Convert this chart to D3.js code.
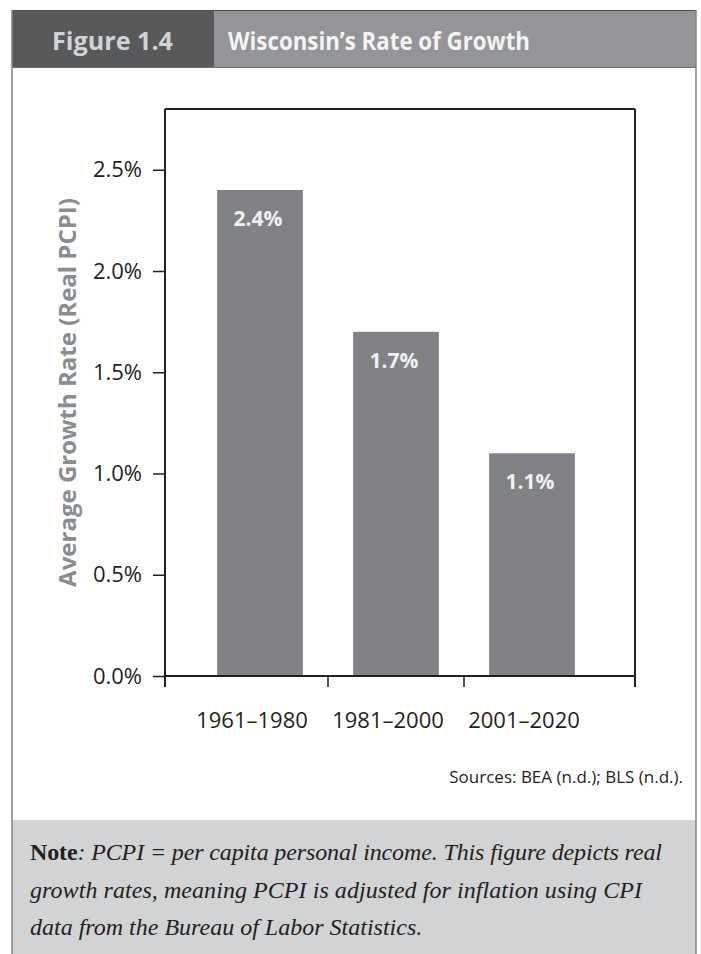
<!DOCTYPE html>
<html>
<head>
<meta charset="utf-8">
<script src="https://cdn.jsdelivr.net/npm/d3@7"></script>
<style>
  html, body { margin: 0; padding: 0; background: #ffffff; }
  svg { display: block; }
</style>
</head>
<body>
<svg id="fig" width="701" height="954"></svg>
<script>
// Average real PCPI growth by period
const categories = ["1961–1980", "1981–2000", "2001–2020"];
const growthRates = [2.4, 1.7, 1.1];
const yTickValues = [0, 0.5, 1.0, 1.5, 2.0, 2.5];

const figureNumber = "Figure 1.4";
const figureTitle = "Wisconsin’s Rate of Growth";
const yAxisTitle = "Average Growth Rate (Real PCPI)";
const sourceText = "Sources: BEA (n.d.); BLS (n.d.).";

const W = 701, H = 954;
const svg = d3.select("#fig");
const sans = "'Open Sans', 'Noto Sans', sans-serif";
const serif = "'Liberation Serif', 'DejaVu Serif', serif";
const ink = "#231f20";

// panel layout
const panelL = 12, panelR = 696, headTop = 10, headBot = 68, splitX = 214;
const noteTop = 820;

// white panel body
svg.append("rect").attr("x", panelL).attr("y", headBot).attr("width", panelR - panelL)
  .attr("height", H - headBot).attr("fill", "#ffffff");

// note band
svg.append("rect").attr("x", panelL).attr("y", noteTop).attr("width", panelR - panelL)
  .attr("height", H - noteTop).attr("fill", "#d1d3d4");

// header bands
svg.append("rect").attr("x", panelL).attr("y", headTop).attr("width", splitX - panelL)
  .attr("height", headBot - headTop).attr("fill", "#58595b");
svg.append("rect").attr("x", splitX).attr("y", headTop).attr("width", panelR - splitX)
  .attr("height", headBot - headTop).attr("fill", "#939598");
svg.append("line").attr("x1", panelL).attr("x2", panelR).attr("y1", headTop + 0.5).attr("y2", headTop + 0.5)
  .attr("stroke", "#4d4d4f").attr("stroke-width", 1);
svg.append("line").attr("x1", panelL).attr("x2", panelR).attr("y1", headBot - 0.5).attr("y2", headBot - 0.5)
  .attr("stroke", "#6d6e71").attr("stroke-width", 1);

svg.append("text").attr("x", 52).attr("y", 50)
  .attr("font-family", sans).attr("font-weight", 700).attr("font-size", 25)
  .attr("fill", "#d1d3d4").attr("textLength", 121).attr("lengthAdjust", "spacingAndGlyphs")
  .text(figureNumber);
svg.append("text").attr("x", 228).attr("y", 50)
  .attr("font-family", sans).attr("font-weight", 700).attr("font-size", 25)
  .attr("fill", "#f4f4f4").attr("textLength", 302).attr("lengthAdjust", "spacingAndGlyphs")
  .text(figureTitle);

// panel side borders
[panelL, panelR].forEach(px => {
  svg.append("line").attr("x1", px).attr("x2", px).attr("y1", headTop).attr("y2", H)
    .attr("stroke", "#808285").attr("stroke-width", 1.5);
});

// plot frame
const frameL = 165, frameR = 635, frameT = 109, frameB = 676;

const y = d3.scaleLinear().domain([0, 2.8]).range([frameB, frameT]);
const x = d3.scaleBand().domain(categories).range([192, 600])
  .paddingInner(0.37).paddingOuter(0.185);

const g = svg.append("g");

// bars
g.selectAll("rect.bar").data(categories).join("rect")
  .attr("class", "bar")
  .attr("x", d => x(d))
  .attr("width", x.bandwidth())
  .attr("y", (d, i) => y(growthRates[i]))
  .attr("height", (d, i) => y(0) - y(growthRates[i]))
  .attr("fill", "#808285");

// value labels inside bars
const pct = v => d3.format(".1f")(v) + "%";
g.selectAll("text.val").data(categories).join("text")
  .attr("class", "val")
  .attr("x", d => x(d) + x.bandwidth() / 2 - 2)
  .attr("y", (d, i) => y(growthRates[i]) + 36)
  .attr("text-anchor", "middle")
  .attr("font-family", sans).attr("font-weight", 700).attr("font-size", 21)
  .attr("fill", "#f1f1f2")
  .text((d, i) => pct(growthRates[i]));

// y axis
const yAxis = d3.axisLeft(y).tickValues(yTickValues).tickFormat(pct)
  .tickSize(12).tickPadding(11);
const yg = g.append("g").attr("transform", `translate(${frameL},0)`).call(yAxis);
yg.select(".domain").remove();
yg.selectAll(".tick line").attr("stroke", ink).attr("stroke-width", 1.5);
yg.selectAll(".tick text").attr("font-family", sans).attr("font-size", 22)
  .attr("fill", ink);

// frame lines
function seg(x1, y1, x2, y2) {
  g.append("line").attr("x1", x1).attr("y1", y1).attr("x2", x2).attr("y2", y2)
    .attr("stroke", ink).attr("stroke-width", 2);
}
seg(frameL, frameT, frameR, frameT);
seg(frameL, frameT, frameL, frameB + 11);
seg(frameR, frameT, frameR, frameB + 11);
seg(frameL, frameB, frameR, frameB);

// category dividers on the x axis
const half = x.step() * x.paddingInner() / 2;
categories.slice(1).forEach(c => {
  g.append("line").attr("x1", x(c) - half).attr("x2", x(c) - half)
    .attr("y1", frameB).attr("y2", frameB + 11)
    .attr("stroke", ink).attr("stroke-width", 1.5);
});

// category labels
g.selectAll("text.cat").data(categories).join("text")
  .attr("class", "cat")
  .attr("x", d => x(d) + x.bandwidth() / 2 - 8)
  .attr("y", 728)
  .attr("text-anchor", "middle")
  .attr("font-family", sans).attr("font-size", 22).attr("fill", ink)
  .text(d => d);

// y axis title
svg.append("text")
  .attr("transform", `translate(76, ${(frameT + frameB) / 2}) rotate(-90)`)
  .attr("text-anchor", "middle")
  .attr("font-family", sans).attr("font-weight", 700).attr("font-size", 24)
  .attr("fill", "#8a8c8f")
  .text(yAxisTitle);

// sources
svg.append("text").attr("x", 683).attr("y", 783).attr("text-anchor", "end")
  .attr("font-family", sans).attr("font-size", 17).attr("fill", ink)
  .text(sourceText);

// note
const noteLines = [
  [["Note", "bold"], [":", "italic"], [" PCPI = per capita personal income. This figure depicts real", "italic"]],
  [["growth rates, meaning PCPI is adjusted for inflation using CPI", "italic"]],
  [["data from the Bureau of Labor Statistics.", "italic"]]
];
const noteWidths = [632, 612, null];
noteLines.forEach((parts, i) => {
  const t = svg.append("text").attr("x", 30).attr("y", 860 + i * 37.5)
    .attr("font-family", serif).attr("font-size", 24).attr("fill", ink);
  if (noteWidths[i]) t.attr("textLength", noteWidths[i]).attr("lengthAdjust", "spacing");
  parts.forEach(([s, style]) => {
    const ts = t.append("tspan").text(s);
    if (style === "bold") ts.attr("font-weight", 700);
    else ts.attr("font-style", "italic");
  });
});
</script>
</body>
</html>
